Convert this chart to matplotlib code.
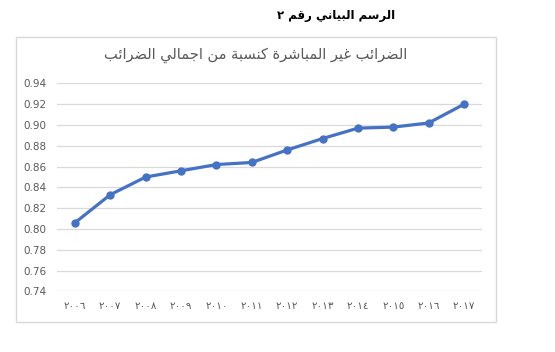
import matplotlib
matplotlib.use("Agg")
import matplotlib.pyplot as plt
from matplotlib.patches import Rectangle

years = ["٢٠٠٦", "٢٠٠٧", "٢٠٠٨", "٢٠٠٩", "٢٠١٠", "٢٠١١",
         "٢٠١٢", "٢٠١٣", "٢٠١٤", "٢٠١٥", "٢٠١٦", "٢٠١٧"]
ratio = [0.806, 0.833, 0.850, 0.856, 0.862, 0.864,
         0.876, 0.887, 0.897, 0.898, 0.902, 0.920]
y_ticks = [0.74, 0.76, 0.78, 0.80, 0.82, 0.84, 0.86, 0.88, 0.90, 0.92, 0.94]

outer_title = "الرسم البياني رقم ٢"
chart_title = "الضرائب غير المباشرة كنسبة من اجمالي الضرائب"

# matplotlib has no arabic shaping, so map letters to presentation forms by hand
# (isolated, final, initial, medial)
forms = {
    "ا": (0xFE8D, 0xFE8E, None, None),
    "د": (0xFEA9, 0xFEAA, None, None),
    "ر": (0xFEAD, 0xFEAE, None, None),
    "و": (0xFEED, 0xFEEE, None, None),
    "ة": (0xFE93, 0xFE94, None, None),
    "ب": (0xFE8F, 0xFE90, 0xFE91, 0xFE92),
    "ت": (0xFE95, 0xFE96, 0xFE97, 0xFE98),
    "ج": (0xFE9D, 0xFE9E, 0xFE9F, 0xFEA0),
    "س": (0xFEB1, 0xFEB2, 0xFEB3, 0xFEB4),
    "ش": (0xFEB5, 0xFEB6, 0xFEB7, 0xFEB8),
    "ض": (0xFEBD, 0xFEBE, 0xFEBF, 0xFEC0),
    "غ": (0xFECD, 0xFECE, 0xFECF, 0xFED0),
    "ق": (0xFED5, 0xFED6, 0xFED7, 0xFED8),
    "ك": (0xFED9, 0xFEDA, 0xFEDB, 0xFEDC),
    "ل": (0xFEDD, 0xFEDE, 0xFEDF, 0xFEE0),
    "م": (0xFEE1, 0xFEE2, 0xFEE3, 0xFEE4),
    "ن": (0xFEE5, 0xFEE6, 0xFEE7, 0xFEE8),
    "ه": (0xFEE9, 0xFEEA, 0xFEEB, 0xFEEC),
    "ي": (0xFEF1, 0xFEF2, 0xFEF3, 0xFEF4),
    "ئ": (0xFE89, 0xFE8A, 0xFE8B, 0xFE8C),
}


def shape(text):
    out = []
    for i, ch in enumerate(text):
        if ch not in forms:
            out.append(ch)
            continue
        f = forms[ch]
        prev = text[i - 1] if i > 0 else ""
        nxt = text[i + 1] if i + 1 < len(text) else ""
        join_prev = prev in forms and forms[prev][2] is not None
        join_next = f[2] is not None and nxt in forms
        if join_prev and join_next:
            code = f[3]
        elif join_prev:
            code = f[1]
        elif join_next:
            code = f[2]
        else:
            code = f[0]
        out.append(chr(code))
    return "".join(out)[::-1]


fig = plt.figure(figsize=(5.55, 3.52), dpi=100)
ax = fig.add_axes([0.103, 0.172, 0.765, 0.591])

x = range(len(years))
ax.plot(x, ratio, color="#4472C4", linewidth=2.3, marker="o", markersize=5)

ax.set_ylim(0.74, 0.94)
ax.set_xlim(-0.5, len(years) - 0.5)
ax.set_yticks(y_ticks)
ax.set_yticklabels([f"{v:.2f}" for v in y_ticks])
ax.set_xticks(list(x))
ax.set_xticklabels(years)
ax.yaxis.grid(True, color="#d9d9d9", linewidth=0.9)
ax.set_axisbelow(True)
for s in ax.spines.values():
    s.set_visible(False)
ax.tick_params(axis="both", length=0, colors="#595959", labelsize=7.5)
ax.tick_params(axis="y", pad=8)
ax.tick_params(axis="x", pad=7)

# chart area border
fig.patches.append(Rectangle((0.0288, 0.0852), 0.865, 0.8097, transform=fig.transFigure,
                             fill=False, edgecolor="#d9d9d9", linewidth=1))

fig.text(0.461, 0.844, shape(chart_title), ha="center", va="center",
         fontsize=10.5, color="#595959")
fig.text(0.605, 0.957, shape(outer_title), ha="center", va="center",
         fontsize=8.5, fontweight="bold", color="black")

fig.savefig("out.png", dpi=100)
